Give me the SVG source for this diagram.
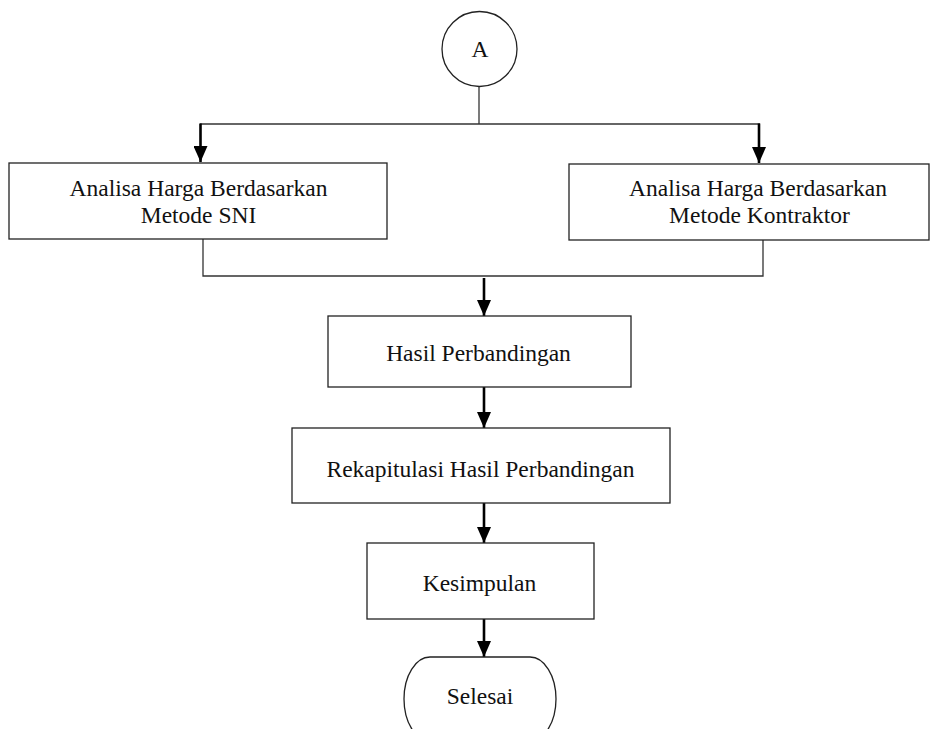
<svg xmlns="http://www.w3.org/2000/svg" width="937" height="729" viewBox="0 0 937 729">
<defs>
<marker id="ah" viewBox="0 0 16 14" refX="16" refY="7" markerWidth="16" markerHeight="14" markerUnits="userSpaceOnUse" orient="auto">
<path d="M0,0 L16,7 L0,14 Z" fill="#000"/>
</marker>
</defs>
<style>
.box{fill:#fff;stroke:#222;stroke-width:1.3}
.ln{fill:none;stroke:#333;stroke-width:1.3}
.ar{fill:none;stroke:#000;stroke-width:2.6}
text{font-family:"Liberation Serif","Times New Roman",serif;font-size:23.5px;fill:#111;text-anchor:middle}
</style>
<rect width="937" height="729" fill="#fff"/>
<g id="connectors">
<line class="ln" x1="479" y1="87" x2="479" y2="124"/>
<line class="ln" x1="200" y1="124" x2="760" y2="124"/>
<path class="ar" d="M200.5,123.5 V162" marker-end="url(#ah)"/>
<path class="ar" d="M759,123.5 V163" marker-end="url(#ah)"/>
<path class="ln" d="M203,239 V276 H763 V240"/>
<path class="ar" d="M484,278 V316" marker-end="url(#ah)"/>
<path class="ar" d="M484,387 V428" marker-end="url(#ah)"/>
<path class="ar" d="M484,503 V543" marker-end="url(#ah)"/>
<path class="ar" d="M484,619 V657" marker-end="url(#ah)"/>
</g>
<g id="nodeA">
<circle cx="479.5" cy="49" r="37.5" fill="#fff" stroke="#222" stroke-width="1.3"/>
<text x="480" y="57">A</text>
</g>
<g id="nodeSNI">
<rect class="box" x="9" y="163" width="378" height="76"/>
<text x="198.5" y="196">Analisa Harga Berdasarkan</text>
<text x="198.5" y="223">Metode SNI</text>
</g>
<g id="nodeKontraktor">
<rect class="box" x="569" y="164" width="360" height="76"/>
<text x="758" y="196">Analisa Harga Berdasarkan</text>
<text x="759.5" y="223">Metode Kontraktor</text>
</g>
<g id="nodeHasil">
<rect class="box" x="328" y="316" width="303" height="71"/>
<text x="478.5" y="361">Hasil Perbandingan</text>
</g>
<g id="nodeRekap">
<rect class="box" x="292" y="428" width="378" height="75"/>
<text x="480.5" y="477">Rekapitulasi Hasil Perbandingan</text>
</g>
<g id="nodeKesimpulan">
<rect class="box" x="367" y="543" width="227" height="76"/>
<text x="479.5" y="591">Kesimpulan</text>
</g>
<g id="nodeSelesai">
<rect class="box" x="404" y="657" width="152" height="84" rx="26" ry="42"/>
<text x="480" y="704">Selesai</text>
</g>
</svg>
